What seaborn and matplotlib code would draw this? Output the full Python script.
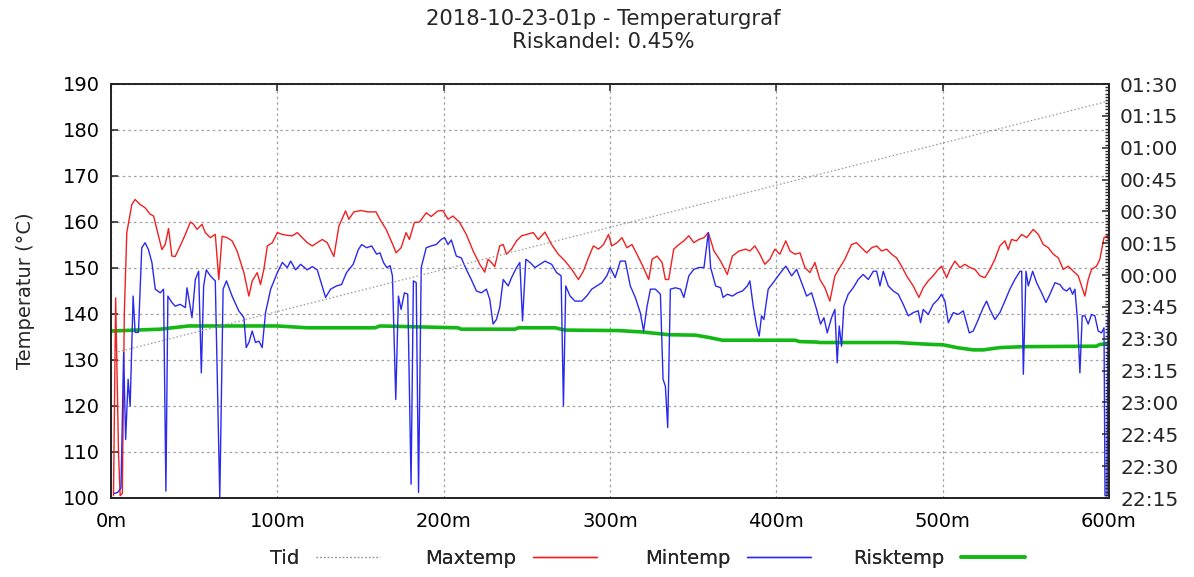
import matplotlib
matplotlib.use("Agg")
import matplotlib.pyplot as plt
from matplotlib.ticker import MultipleLocator, FuncFormatter
import seaborn as sns
import pandas as pd

# ---- data -------------------------------------------------------------
title = "2018-10-23-01p - Temperaturgraf"
subtitle = "Riskandel: 0.45%"
x_ticks = [0, 100, 200, 300, 400, 500, 600]
x_labels = ["0m", "100m", "200m", "300m", "400m", "500m", "600m"]

# Tid: clock time along the run (right axis)
tid_m = [0, 600]
tid_clock = ["23:23", "01:22"]

max_m = [1.5, 2.8, 4.5, 5.5, 6.8, 8, 9.5, 12.5, 14.5, 17.5, 20.5, 23.5, 25.6, 27.6, 30.6,
         32.6, 34.6, 36.6, 38.6, 41.6, 44.7, 47.7, 49.7, 51.7, 54.7, 56.7, 59.7, 62.7,
         64.8, 66.8, 69.8, 72.8, 75.8, 79.9, 82.9, 84.9, 87.9, 89.9, 91.9, 94, 97, 100,
         103, 106, 109, 112, 115, 118, 121, 124, 127, 130, 134, 137, 141, 143, 146,
         150.3, 154.3, 159.3, 162.3, 165.4, 169.4, 171.4, 174.4,
         177.4, 179.4, 182.4, 185.5, 189.5, 192.5, 196.5, 199.5, 202.6, 205.6, 209.6,
         213.6, 217.7, 221.7, 224.7, 226.7, 228.7, 230.7, 233.7, 235.8, 237.8, 240.8,
         243.8, 246.8, 249.8, 253.9, 256.9, 260.9, 264.9, 268.9, 273, 277, 281, 284,
         287, 290, 293.1, 296.1, 299.1, 301.1, 304.2, 307.2, 310.2, 313.2, 316.2,
         319.2, 323.3, 325.3, 328.3, 331.3, 333.3, 335.3, 338.3, 341.4, 344.4, 347.4,
         350.4, 353.4, 356.5, 359.1, 362.5, 366.5, 370.5, 373.6, 377.6, 381.6,
         384.1, 387.1, 390.1, 393.1, 396.1, 399.1, 402.1, 405.7, 408.2, 411.2, 414.2,
         417.2, 420.2, 423.2, 426.2, 429.2, 432.2, 435.2, 438.2, 441.2, 445.2, 448.2,
         451.2, 454.3, 457.3, 460.3, 463.3, 466.3, 469.3, 472.3, 475.3, 478.3, 482.3,
         485.7, 488.3, 491.3, 494.3, 497.3, 499.3, 502.4, 504.4, 507.4, 510.4, 513.4,
         516.4, 519.4, 522.4, 525.4, 528.4, 531.4, 534.4, 537.4, 539.4, 541.4, 544.4,
         547.5, 550.5, 554.5, 557.5, 560.5, 563.5, 566.5, 569.5, 572.5, 575.5, 578.5,
         581.5, 585.5, 587.5, 589.5, 592.5, 594.5, 597, 599, 600]
max_t = [100.5, 143.5, 110, 100.5, 101, 140, 157.7, 163.8, 164.9, 163.8, 163.1, 161.7, 161.3, 158.4, 154,
         155.1, 158.6, 152.6, 152.5, 154.8, 157.3, 160, 159.5, 158.4, 159.5, 157.7, 156.6, 157.3,
         147.5, 156.9, 156.6, 155.9, 153.7, 149, 143.9, 147.2, 149, 146.4, 149.7, 154.8, 155.5, 157.7,
         157.3, 157.1, 157, 157.7, 156.6, 155.5, 154.8, 155.5, 156.2, 155.5, 152.5, 159.1, 162.4, 160.6, 162.2,
         162.5, 162.2, 162.2, 160.2, 158.4, 155.1, 153.3, 154.4,
         157.7, 156.2, 159.9, 160, 162, 161.2, 162.4, 162.5, 160.6, 161.3, 159.9,
         157.3, 153.7, 150.8, 149.1, 151.9, 151.2, 150.3, 154.8, 155.1, 153, 154.1,
         155.9, 157, 157.3, 157.7, 156.2, 157.8, 155.1, 153, 151.5, 149.7, 147.5, 149.3,
         152.2, 154.8, 154.1, 155.1, 157.3, 154.8, 155.5, 156.6, 154.4, 155.1, 153,
         150.8, 147.5, 151.9, 152.6, 151.2, 147.5, 147.5, 154.1, 155.1, 155.9, 157,
         155.5, 156.2, 156.6, 157.7, 153.7, 151.5, 148.6, 152.6, 153.7, 154.1,
         153.7, 154.8, 153, 150.8, 151.9, 154.1, 153, 155.9, 153.7, 153, 153.3,
         150.1, 149, 151.2, 147.5, 145.7, 142.8, 148.3, 150.1, 151.9, 155.1, 155.5,
         154.4, 153.3, 154.4, 154.8, 153.7, 154.1, 153, 152.2, 150.4, 148.3, 146.1,
         143.6, 145.7, 147.2, 148.3, 149.7, 150.4, 147.9, 149.7, 151.5, 150.1, 150.8,
         150.1, 149.7, 148.3, 147.9, 149.7, 151.9, 154.8, 155.9, 154, 156.2, 155.9,
         157.3, 156.6, 158.4, 157.3, 155.1, 154.4, 153, 152.2, 149.7, 150.4, 149.3,
         148.3, 143.9, 147.5, 149.7, 150.4, 151.9, 156.6, 157, 155.9]

min_m = [2, 4, 6, 7.6, 8.8, 10.3, 11.5, 13.3, 14.5, 16.5, 18.5, 20.5, 22.5, 24.6, 26.6, 29.6,
         31.6, 33, 34.2, 36.6, 38.6, 41.6, 44.7, 45.7, 48.7, 50.7, 52.7, 54.3, 55.7, 57.3,
         59.7, 62.7, 65.4, 67.4, 69.4, 72.8, 76.8, 79.9, 81.3, 82.9, 84.9, 86.9, 88.9, 90.9,
         92.9, 96, 100, 103, 106, 108, 111, 114, 118, 121, 124, 126, 129, 132, 135.6,
         138.6, 141.6, 145.6, 148.7, 150.7, 153.7, 156.7, 159.7, 161.7, 163.8, 165.8,
         167.8, 169.2, 171.2, 172.8, 174.4,
         176.4, 178.4, 180.4, 181.8, 183.5, 184.9, 186.5, 189.5, 192.5, 195.5, 198.5,
         200.6, 202.6, 204.6, 207.6, 210.6, 213.6, 216.6, 219.7, 222.7, 225.7, 227.7,
         229.7, 231.7, 233.7, 235.8, 238.8, 240.8, 243.8, 245.8, 247.4, 249.4, 251.9,
         254.9, 257.9, 260.9, 264.9, 267.9, 270.6, 272, 273.4, 276, 279, 283, 286, 289,
         292, 295.1, 298.1, 300.1, 303.1, 306.2, 309.2, 312.2, 315.2, 318.2, 320.2,
         322.3, 324.3, 327.3, 330.3, 331.9, 333.3, 334.7, 336.3, 339.4, 342.4, 344.4,
         347.4, 350.4, 353.4, 356.5, 359.1, 360.5, 363.5, 366.5, 368, 370.5, 373.6,
         376.6, 379.6, 382.6,
         384.1, 386.1, 388.1, 389.7, 391.1, 392.5, 395.1, 398.1, 401.1, 404.1, 405.7,
         409.2, 412.2, 415.2, 418.2, 421.2, 424.2, 426.6, 428.6, 430.6, 433.2, 435.2,
         436.6, 437.8, 439.2, 440.6, 443.2, 446.2, 449.2, 452.2, 455.3, 458.3, 460.3,
         462.3, 464.3, 467.3, 470.3, 473.3, 476.3, 479.3, 482.3, 485.3, 486.7, 488.3,
         491.3, 494.3, 497.3, 499.3, 501.4, 503.4, 506.4, 509.4, 512.4, 516, 518.4,
         521.4, 524.4, 526.4, 528.4, 531.4, 534.4, 537.4, 540.4, 543.4, 546.5, 547.5,
         548.5, 550.1, 551.5, 554.1, 556.5, 559.5, 562.1, 564.5, 567.5, 570.5, 572.5,
         574.5, 576.5, 578.1, 579.5, 581.1, 582.5, 583.9, 585.5, 587.5, 589.5, 591.5,
         593.5, 595.5, 597, 597.6, 598.8, 599.4, 600]
min_t = [101, 101.2, 102.2, 131.6, 112.7, 125.8, 120, 143.9, 136, 136, 154.4, 155.5, 154, 151.2, 145.4, 144.6,
         145.4, 101.5, 143.9, 142.5, 141.7, 142.1, 141.4, 145.7, 139.2, 147.5, 149.3, 127.2, 146.1, 149.6,
         148.3, 147.2, 100, 145.4, 147.2, 143.9, 140.7, 139.2, 132.7, 133.8, 136.3, 133.8, 134.1, 132.7,
         140.3, 145.4, 149, 151.2, 150.1, 151.5, 149.6, 150.8, 149.6, 150.3, 149.6, 147.2, 143.6, 145.4, 146.1,
         146.4, 149, 150.8, 154, 155.1, 154.4, 154.8, 153, 153.3, 151.2, 150.1,
         150.5, 148.3, 121.4, 143.9, 141,
         144.6, 144.3, 103, 147.2, 146.8, 101.2, 150.1, 154.4, 154.8, 155.1, 156.2,
         156.6, 155.1, 156.1, 152.6, 152.2, 149.7, 147.5, 145, 144.6, 145.4, 143.2,
         137.8, 138.8, 141.4, 147.5, 146.1, 147.9, 150.1, 151.2, 138.5, 151.9, 151.2,
         150.1, 150.8, 151.5, 150.8, 149, 148.3, 120, 146.1, 143.9, 142.8, 142.8, 143.9, 145.4,
         146.1, 146.8, 148.3, 150.1, 147.9, 151.5, 151.5, 146.1, 143.6, 140.3, 136.3,
         141.7, 145.4, 145.4, 144.3, 125.8, 124.3, 115.3, 145.4, 145.7, 145.4, 143.6,
         148.3, 149.7, 150.1, 150.1, 157.7, 150.1, 146.1, 145.7, 143.6, 144.3, 143.9,
         144.6, 145, 146.1,
         147.2, 141.7, 137.4, 135.2, 139.6, 138.8, 145.4, 146.8, 148.3, 149.7, 150.4,
         148.3, 149.7, 146.8, 143.9, 144.6, 141, 137.8, 139.2, 135.9, 139.2, 141,
         129.4, 137.4, 133, 141.7, 144.3, 145.7, 147.5, 148.6, 147.5, 149.3, 149.3,
         146.1, 149.3, 146.1, 145, 144.3, 142.1, 139.6, 140.3, 140.7, 138.1, 141,
         139.9, 142.1, 143.2, 144.3, 142.8, 138.1, 140.3, 139.9, 140.7, 135.9, 136.3,
         138.8, 141.4, 142.8, 141, 138.8, 140.3, 142.8, 145.4, 147.5, 149.3, 149.3,
         126.9, 149.3, 146.1, 149.3, 146.8, 144.6, 142.5, 144.3, 146.8, 146.4, 145.4,
         145, 145.7, 144.3, 145.4, 138.5, 127.2, 139.6, 139.6, 137.8, 139.9, 139.6,
         136.3, 135.9, 137, 100.5, 100.5, 140, 100.5]

risk_m = [0, 29.6, 46.7, 100, 118, 158.7, 161.7, 208.6, 210.6, 242.8, 245, 267, 273, 305,
          319, 335.3, 351.4, 359.5, 367.5, 411.2, 414, 424.2, 426, 472.3, 492.3, 500.4,
          508.4, 518.4, 524.4, 534.4, 548.5, 592.5, 594.5, 600]
risk_t = [136.3, 136.7, 137.4, 137.4, 137, 137, 137.4, 137, 136.7, 136.7, 137, 137, 136.5, 136.4,
          136.1, 135.5, 135.4, 134.9, 134.3, 134.3, 134, 133.9, 133.8, 133.8, 133.4, 133.3,
          132.7, 132.2, 132.2, 132.7, 132.9, 133, 133.4, 133.5]

legend_labels = ["Tid", "Maxtemp", "Mintemp", "Risktemp"]

# ---- styling ----------------------------------------------------------
sns.set_style("white")
plt.rcParams["font.family"] = ["DejaVu Sans"]
plt.rcParams["font.size"] = 14

FS = 14
GRID = "#a0a0a0"
W, H = 1194, 577


def clock_to_min(s):
    h, m = map(int, s.split(":"))
    v = h * 60 + m
    return v + 1440 if h < 12 else v


def min_to_clock(v, _pos=None):
    v = int(round(v))
    return f"{(v // 60) % 24:02d}:{v % 60:02d}"


fig = plt.figure(figsize=(W / 100, H / 100), dpi=100)
ax = fig.add_axes([111 / W, 1 - 498 / H, (1109 - 111) / W, (498 - 84) / H])
ax2 = ax.twinx()

df_max = pd.DataFrame({"m": max_m, "t": max_t})
df_min = pd.DataFrame({"m": min_m, "t": min_t})
df_risk = pd.DataFrame({"m": risk_m, "t": risk_t})
df_tid = pd.DataFrame({"m": tid_m, "tid": [clock_to_min(c) for c in tid_clock]})

sns.lineplot(data=df_tid, x="m", y="tid", ax=ax2, color="#9a9a9a", lw=0.9,
             linestyle=(0, (1.2, 1.8)), estimator=None, sort=False, legend=False)
sns.lineplot(data=df_risk, x="m", y="t", ax=ax, color="#14b814", lw=2.6,
             estimator=None, sort=False, legend=False)
sns.lineplot(data=df_max, x="m", y="t", ax=ax, color="#f02020", lw=1.0,
             estimator=None, sort=False, legend=False)
sns.lineplot(data=df_min, x="m", y="t", ax=ax, color="#2a2aee", lw=1.0,
             estimator=None, sort=False, legend=False)

# left axis
ax.set_xlim(0, 600)
ax.set_ylim(100, 190)
ax.set_xticks(x_ticks)
ax.set_xticklabels(x_labels)
ax.yaxis.set_major_locator(MultipleLocator(10))
ax.set_xlabel("")
ax.set_ylabel("Temperatur (°C)", fontsize=FS, labelpad=20)
ax.grid(True, color=GRID, lw=0.9, linestyle=(0, (2, 2.5)))
ax.tick_params(axis="both", direction="in", length=5, width=1.1, labelsize=FS,
               top=True, right=False, colors="#222222", labelcolor="black")
ax.tick_params(axis="x", pad=10)
ax.tick_params(axis="y", pad=8)

# right axis: clock time
ax2.set_ylim(clock_to_min("22:15"), clock_to_min("01:30"))
ax2.yaxis.set_major_locator(MultipleLocator(15))
ax2.yaxis.set_minor_locator(MultipleLocator(1.5))
ax2.yaxis.set_major_formatter(FuncFormatter(min_to_clock))
ax2.set_ylabel("")
ax2.tick_params(axis="y", which="major", direction="in", length=5, width=1.1,
                labelsize=14.5, pad=8)
ax2.tick_params(axis="y", which="minor", direction="in", length=3, width=1.0)
ax2.grid(False)

for a in (ax, ax2):
    for sp in a.spines.values():
        sp.set_color("#222222")
        sp.set_linewidth(1.2)
        sp.set_visible(True)

fig.text(0.505, 1 - 9 / H, title + "\n" + subtitle, ha="center", va="top",
         fontsize=15.2, linespacing=1.2)

# key below the plot: label right-justified, sample to its right
handles = [ax2.lines[0], ax.lines[1], ax.lines[2], ax.lines[0]]
sample_right = [380, 597, 811, 1025]
for h, lab, xr in zip(handles, legend_labels, sample_right):
    leg = fig.legend([h], [lab], loc="center right", bbox_to_anchor=(xr / W, 1 - 558 / H),
                     frameon=False, markerfirst=False, handlelength=3.3,
                     handletextpad=0.85, borderpad=0, borderaxespad=0, fontsize=FS)
    fig.add_artist(leg)

fig.savefig("out.png", dpi=100)
